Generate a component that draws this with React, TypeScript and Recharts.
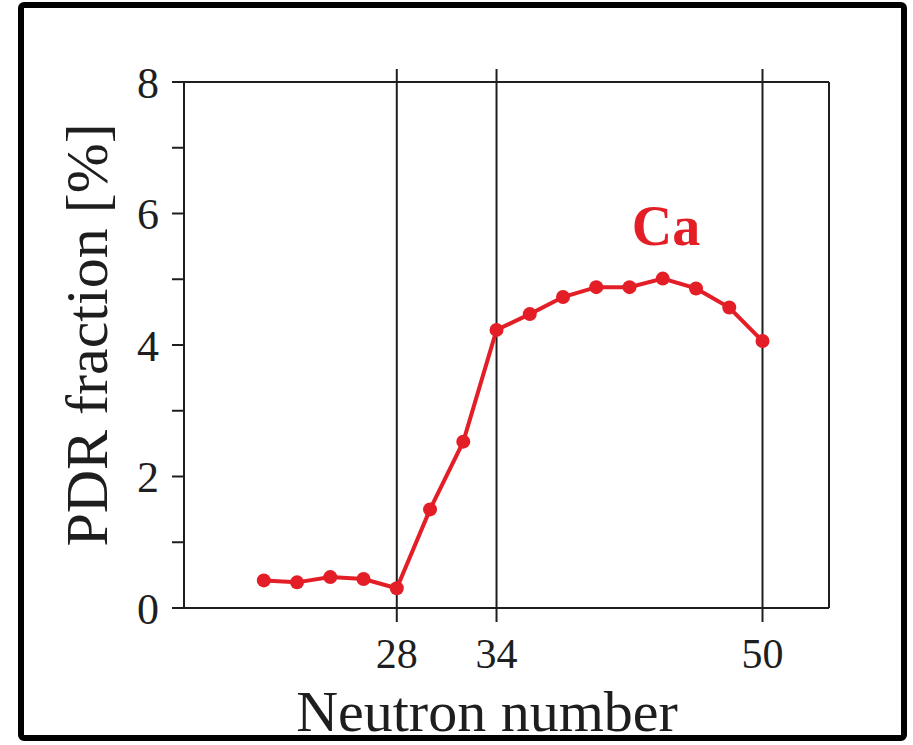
import React from "react";
import { LineChart, Line, XAxis, YAxis, ReferenceLine, Customized } from "recharts";

// Neutron number N of Ca isotopes and PDR fraction [%]
const neutrons = [20, 22, 24, 26, 28, 30, 32, 34, 36, 38, 40, 42, 44, 46, 48, 50];
const pdrFraction = [0.42, 0.39, 0.47, 0.44, 0.3, 1.5, 2.53, 4.23, 4.47, 4.73, 4.88, 4.88, 5.01, 4.86, 4.57, 4.06];

const xTicks = [28, 34, 50];
const yTicks = [0, 1, 2, 3, 4, 5, 6, 7, 8];
const shellClosures = [28, 34, 50];

const data = neutrons.map((n, i) => ({ n, pdr: pdrFraction[i] }));

const RED = "#e31e26";
const INK = "#1e1e1e";
const FONT = "'Liberation Serif', 'Times New Roman', serif";

const Titles = () => (
  <g>
    <rect x={21} y={5} width={883} height={733} rx={3} fill="none" stroke="#000" strokeWidth={6} />
    <text
      x={487}
      y={731}
      textAnchor="middle"
      fontFamily={FONT}
      fontSize={58}
      fill={INK}
    >
      Neutron number
    </text>
    <text
      transform="rotate(-90)"
      x={-335}
      y={107}
      textAnchor="middle"
      fontFamily={FONT}
      fontSize={60}
      fill={INK}
    >
      PDR fraction [%]
    </text>
    <text x={666} y={245} textAnchor="middle" fontFamily={FONT} fontSize={56} fontWeight="bold" fill={RED}>
      Ca
    </text>
  </g>
);

export default function App() {
  const tickStyle = { fill: INK, fontSize: 44, fontFamily: FONT };
  const xTickStyle = { fill: INK, fontSize: 42, fontFamily: FONT };
  return (
    <div style={{ position: "absolute", left: 0, top: 0, background: "#fff" }}>
      <LineChart width={913} height={745} data={data} margin={{ top: 81, right: 0, bottom: 0, left: 0 }}>
        <XAxis
          dataKey="n"
          type="number"
          domain={[15.2, 54]}
          ticks={xTicks}
          height={137}
          tickSize={14}
          tickMargin={16}
          tick={xTickStyle}
          axisLine={{ stroke: INK, strokeWidth: 2 }}
          tickLine={{ stroke: INK, strokeWidth: 2 }}
        />
        <XAxis
          xAxisId="top"
          orientation="top"
          dataKey="n"
          type="number"
          domain={[15.2, 54]}
          ticks={xTicks}
          height={1}
          tickSize={13}
          tickFormatter={() => ""}
          axisLine={{ stroke: INK, strokeWidth: 2 }}
          tickLine={{ stroke: INK, strokeWidth: 2 }}
        />
        <YAxis
          domain={[0, 8]}
          ticks={yTicks}
          width={184}
          tickSize={12}
          tickMargin={13}
          tick={tickStyle}
          tickFormatter={(v: number) => (v % 2 === 0 ? String(v) : "")}
          axisLine={{ stroke: INK, strokeWidth: 2 }}
          tickLine={{ stroke: INK, strokeWidth: 2 }}
        />
        <YAxis
          yAxisId="r"
          orientation="right"
          domain={[0, 8]}
          ticks={yTicks}
          width={84}
          tickSize={13}
          tickFormatter={() => ""}
          axisLine={{ stroke: INK, strokeWidth: 2 }}
          tickLine={{ stroke: INK, strokeWidth: 2 }}
        />
        {shellClosures.map((n) => (
          <ReferenceLine key={n} x={n} stroke={INK} strokeWidth={2} />
        ))}
        <Line
          dataKey="pdr"
          stroke={RED}
          strokeWidth={4}
          dot={{ r: 7, fill: RED, stroke: RED, strokeWidth: 0 }}
          isAnimationActive={false}
        />
        <Customized component={Titles} />
      </LineChart>
    </div>
  );
}
